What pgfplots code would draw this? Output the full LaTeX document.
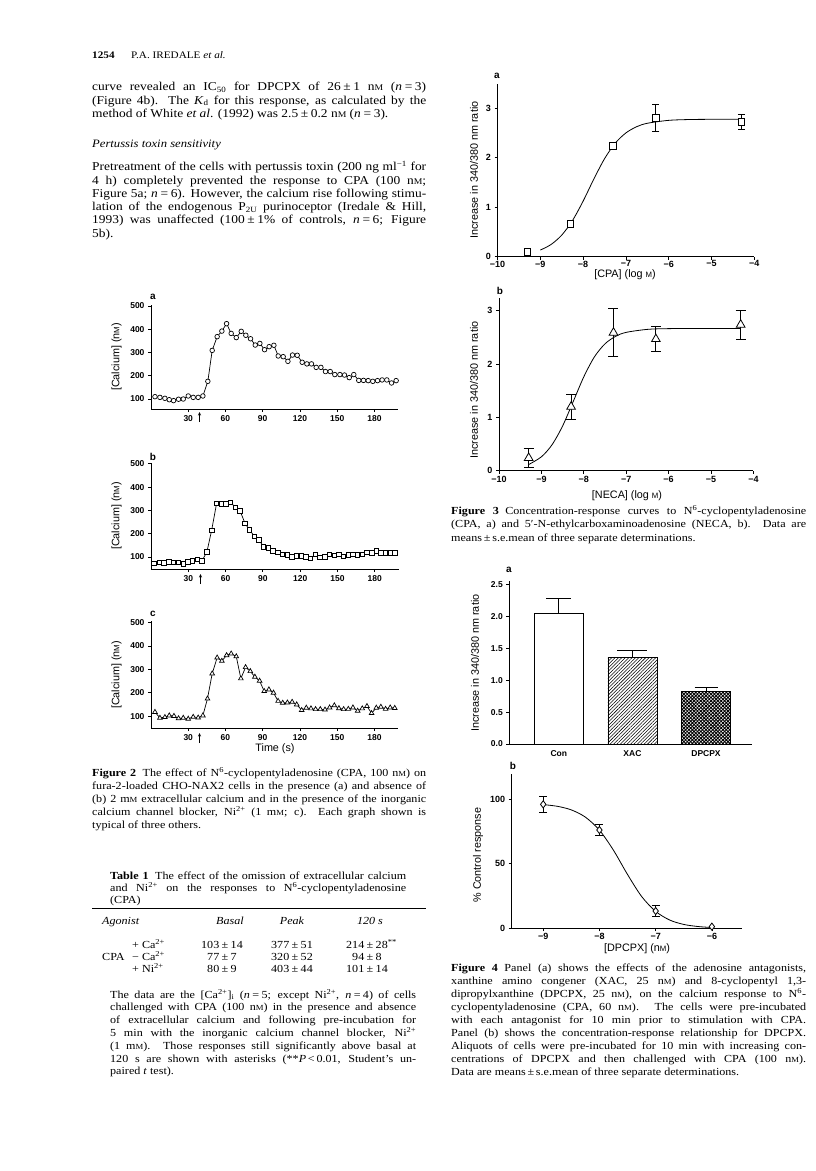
\documentclass[border=0pt]{standalone}
\usepackage{graphicx}
\usepackage{pgfplots}
\pgfplotsset{compat=1.18}
\usepackage{fontspec}
\setmainfont{Liberation Serif}[FakeStretch=1.12]
\setsansfont{Liberation Sans}
\usetikzlibrary{patterns.meta,arrows.meta}

% one picture unit = one pixel of the scanned page
\newcommand{\TJ}[4]{\node[anchor=base west,inner sep=0pt] at (#1pt,-#2pt) {\makebox[#3pt][s]{#4}};}
\newcommand{\TL}[3]{\node[anchor=base west,inner sep=0pt] at (#1pt,-#2pt) {#3};}
\newcommand{\TC}[3]{\node[anchor=base,inner sep=0pt] at (#1pt,-#2pt) {#3};}
\newcommand{\sm}{\scalebox{0.72}{M}}
\newcommand{\su}[1]{\textsuperscript{#1}}
\newcommand{\sub}[1]{\textsubscript{#1}}
\newcommand{\PM}{\hspace{0.22em}±\hspace{0.22em}}
\newcommand{\EQ}{\hspace{0.22em}=\hspace{0.22em}}
\newcommand{\bodyf}{\fontsize{12}{13}\selectfont}
\newcommand{\capf}{\fontsize{10.8}{12}\selectfont}
\newcommand{\labf}{\sffamily\fontsize{10.8}{12}\selectfont}
\newcommand{\letf}{\sffamily\bfseries\fontsize{10}{11}\selectfont}

\pgfplotsset{
  scan/.style={
    scale only axis, anchor=south west,
    axis lines*=left,
    axis line style={line width=0.9pt},
    tick style={black, line width=0.8pt},
    major tick length=3pt, tick align=outside,
    ticklabel style={font=\sffamily\bfseries\fontsize{8.5}{9}\selectfont},
    /pgf/number format/assume math mode=true,
    clip=false,
  },
  trace/.style={line width=0.7pt, mark options={fill=white, line width=0.7pt, solid}},
  ebars/.style={error bars/.cd, y dir=both, y explicit,
    error bar style={line width=0.8pt},
    error mark options={rotate=90, mark size=#1, line width=0.8pt}},
  upbar/.style={error bars/.cd, y dir=plus, y explicit,
    error bar style={line width=0.8pt},
    error mark options={rotate=90, mark size=#1, line width=0.8pt}},
}

\begin{document}
\begin{tikzpicture}[x=1pt,y=1pt]
\useasboundingbox (0,0) rectangle (816,-1171);

%---------------- left column text
\TL{92}{58}{\fontsize{10}{12}\selectfont\textbf{1254}}
\TL{131}{58}{\fontsize{10}{12}\selectfont P.A. IREDALE \textit{et al.}}

\TJ{92}{90.7}{334}{\bodyf curve revealed an IC\sub{50} for DPCPX of 26\PM1 n\sm{} (\textit{n}\EQ3)}
\TJ{92}{104}{334}{\bodyf (Figure 4b). The \textit{K}\sub{d} for this response, as calculated by the}
\TL{92}{117.3}{\bodyf method of White \textit{et al}. (1992) was 2.5\PM0.2 n\sm{} (\textit{n}\EQ3).}

\TL{92}{147}{\fontsize{11.3}{13}\selectfont\itshape Pertussis toxin sensitivity}

\TJ{92}{170.7}{334}{\bodyf Pretreatment of the cells with pertussis toxin (200 ng ml\su{−1} for}
\TJ{92}{184}{334}{\bodyf 4 h) completely prevented the response to CPA (100 n\sm;}
\TJ{92}{197.3}{334}{\bodyf Figure 5a; \textit{n}\EQ6). However, the calcium rise following stimu-}
\TJ{92}{210.6}{334}{\bodyf lation of the endogenous P\sub{2U} purinoceptor (Iredale \& Hill,}
\TJ{92}{223.9}{334}{\bodyf 1993) was unaffected (100\PM1\% of controls, \textit{n}\EQ6; Figure}
\TL{92}{237.2}{\bodyf 5b).}

%---------------- Figure 2 caption
\TJ{92}{776}{334}{\capf\textbf{Figure 2}\hspace{0.6em}The effect of N\su{6}-cyclopentyladenosine (CPA, 100 n\sm) on}
\TJ{92}{789.2}{334}{\capf fura-2-loaded CHO-NAX2 cells in the presence (a) and absence of}
\TJ{92}{802.4}{334}{\capf (b) 2 m\sm{} extracellular calcium and in the presence of the inorganic}
\TJ{92}{815.6}{334}{\capf calcium channel blocker, Ni\su{2+} (1 m\sm; c). Each graph shown is}
\TL{92}{828.8}{\capf typical of three others.}

%---------------- Table 1
\TJ{110}{879}{296}{\capf\textbf{Table 1}\hspace{0.6em}The effect of the omission of extracellular calcium}
\TJ{110}{891.3}{296}{\capf and Ni\su{2+} on the responses to N\su{6}-cyclopentyladenosine}
\TL{110}{903.3}{\capf (CPA)}
\draw[line width=1pt] (92,-908.5) -- (426,-908.5);
\TL{102}{924.7}{\capf\itshape Agonist}
\TC{230}{924.7}{\capf\itshape Basal}
\TC{292}{924.7}{\capf\itshape Peak}
\TC{370}{924.7}{\capf\itshape 120 s}
\TL{132}{948}{\capf + Ca\su{2+}}
\TL{102}{960.2}{\capf CPA}
\TL{132}{960.2}{\capf − Ca\su{2+}}
\TL{132}{972.4}{\capf + Ni\su{2+}}
\TC{222}{948}{\capf 103\PM14}
\TC{222}{960.2}{\capf 77\PM7}
\TC{222}{972.4}{\capf 80\PM9}
\TC{292}{948}{\capf 377\PM51}
\TC{292}{960.2}{\capf 320\PM52}
\TC{292}{972.4}{\capf 403\PM44}
\TC{367}{948}{\capf 214\PM28\rlap{\textsuperscript{**}}}
\TC{367}{960.2}{\capf 94\PM8}
\TC{367}{972.4}{\capf 101\PM14}

\TJ{110}{998}{306}{\capf The data are the [Ca\su{2+}]\sub{i} (\textit{n}\EQ5; except Ni\su{2+}, \textit{n}\EQ4) of cells}
\TJ{110}{1010.8}{306}{\capf challenged with CPA (100 n\sm) in the presence and absence}
\TJ{110}{1023.6}{306}{\capf of extracellular calcium and following pre-incubation for}
\TJ{110}{1036.4}{306}{\capf 5 min with the inorganic calcium channel blocker, Ni\su{2+}}
\TJ{110}{1049.2}{306}{\capf (1 m\sm). Those responses still significantly above basal at}
\TJ{110}{1062}{306}{\capf 120 s are shown with asterisks (**\textit{P}\,<\,0.01, Student’s un-}
\TL{110}{1074.8}{\capf paired \textit{t} test).}

%---------------- right column captions
\TJ{451}{514}{355}{\capf\textbf{Figure 3}\hspace{0.6em}Concentration-response curves to N\su{6}-cyclopentyladenosine}
\TJ{451}{527.5}{355}{\capf (CPA, a) and 5′-N-ethylcarboxaminoadenosine (NECA, b). Data are}
\TL{451}{541}{\capf means\,±\,s.e.mean of three separate determinations.}

\TJ{451}{971}{355}{\capf\textbf{Figure 4}\hspace{0.6em}Panel (a) shows the effects of the adenosine antagonists,}
\TJ{451}{984.1}{355}{\capf xanthine amino congener (XAC, 25 n\sm) and 8-cyclopentyl 1,3-}
\TJ{451}{997.2}{355}{\capf dipropylxanthine (DPCPX, 25 n\sm), on the calcium response to N\su{6}-}
\TJ{451}{1010.3}{355}{\capf cyclopentyladenosine (CPA, 60 n\sm). The cells were pre-incubated}
\TJ{451}{1023.4}{355}{\capf with each antagonist for 10 min prior to stimulation with CPA.}
\TJ{451}{1036.5}{355}{\capf Panel (b) shows the concentration-response relationship for DPCPX.}
\TJ{451}{1049.6}{355}{\capf Aliquots of cells were pre-incubated for 10 min with increasing con-}
\TJ{451}{1062.7}{355}{\capf centrations of DPCPX and then challenged with CPA (100 n\sm).}
\TL{451}{1075.8}{\capf Data are means\,±\,s.e.mean of three separate determinations.}

%================ Figure 2a
\begin{axis}[scan, at={(151pt,-409pt)}, width=247pt, height=104.2pt,
  xmin=0, xmax=199, ymin=57, ymax=505,
  xtick={30,60,...,180}, ytick={100,200,...,500}]
\addplot[trace, mark=*, mark size=2.3pt] coordinates {
(3.2,110)(7.2,107)(11.2,103)(14.7,97)(18.2,93)(22.2,99)(26,100)(30,113)(34,107)(38,107)
(41.8,113)(45.8,176)(49.3,309)(53.3,368)(57.1,392)(60.9,424)(64.6,382)(68.7,364)(72.7,391)(76.4,374)
(80.2,359)(84,332)(87.7,339)(91.5,312)(95.2,325)(99,331)(102.5,285)(106.5,282)(110.3,262)(114,289)
(117.8,288)(121.8,258)(125.6,251)(129.3,251)(133.1,236)(136.9,236)(140.6,218)(144.4,218)(148.1,205)(152.2,205)
(155.9,203)(159.7,192)(163.4,205)(167.4,180)(171.2,180)(175,179)(178.7,176)(182.5,179)(186.2,182)(190,182)
(193.8,169)(197.5,179)};
\end{axis}
\node[font=\letf] at (153,-297) {a};
\node[rotate=90,font=\labf] at (116.7,-357) {[Calcium] (n\sm)};
\draw[line width=0.7pt,-{Stealth[length=3.5pt,width=3pt]}] (199.5,-422) -- (199.5,-412);

%================ Figure 2b
\begin{axis}[scan, at={(151pt,-569pt)}, width=248pt, height=106.3pt,
  xmin=0, xmax=199.5, ymin=48, ymax=505,
  xtick={30,60,...,180}, ytick={100,200,...,500}]
\addplot[trace, mark=square*, mark size=2.2pt] coordinates {
(2.4,73)(6.6,77)(10.4,74)(14.4,78)(18.2,76)(21.9,76)(25.9,70)(29.7,78)(33.5,83)(37.2,90)
(41,83)(45,122)(48.8,215)(52.8,331)(56.5,328)(60.3,328)(64,335)(67.8,314)(71.6,298)(75.6,245)
(79.3,216)(83.1,189)(86.8,173)(90.6,144)(94.4,139)(98.1,126)(101.9,120)(105.6,110)(109.6,109)(113.4,101)
(117.1,104)(120.9,104)(124.6,101)(128.4,94)(132.2,110)(135.9,97)(139.9,101)(143.6,110)(147.4,107)(151.2,111)
(154.9,103)(158.7,109)(162.5,110)(166.2,109)(170,110)(173.7,120)(177.5,117)(181.2,126)(185,117)(188.7,117)
(192.5,117)(196.2,117)};
\end{axis}
\node[font=\letf] at (153,-457) {b};
\node[rotate=90,font=\labf] at (116.7,-516) {[Calcium] (n\sm)};
\draw[line width=0.7pt,-{Stealth[length=3.5pt,width=3pt]}] (200.5,-584) -- (200.5,-574);

%================ Figure 2c
\begin{axis}[scan, at={(151pt,-728pt)}, width=247pt, height=106.7pt,
  xmin=0, xmax=199, ymin=50, ymax=505,
  xtick={30,60,...,180}, ytick={100,200,...,500}]
\addplot[trace, mark=triangle*, mark size=2.7pt] coordinates {
(3.2,118)(7.2,93)(11.2,96)(14.7,103)(18.5,101)(22.2,91)(26,93)(30,89)(34,97)(38,94)
(41.8,103)(45.5,175)(49.3,282)(53.3,350)(57.1,336)(60.9,360)(64.6,367)(68.7,355)(72.4,261)(76.2,309)
(80,292)(83.7,268)(87.5,251)(91.2,207)(95,214)(98.7,200)(102.4,165)(106.1,157)(109.9,158)(113.7,161)
(117.4,150)(121.4,126)(125.1,136)(128.9,133)(132.6,130)(136.4,130)(140.2,128)(143.9,137)(147.7,146)(151.4,134)
(155.2,130)(159,131)(162.7,137)(166.5,123)(170.2,133)(174,143)(177.7,113)(181.5,136)(185.2,140)(189,131)
(192.7,137)(196.4,135)};
\end{axis}
\node[font=\letf] at (153,-614) {c};
\node[rotate=90,font=\labf] at (116.7,-675) {[Calcium] (n\sm)};
\node[font=\labf] at (275,-749) {Time (s)};
\draw[line width=0.7pt,-{Stealth[length=3.5pt,width=3pt]}] (199.5,-743) -- (199.5,-733);

%================ Figure 3a
\begin{axis}[scan, at={(497.5pt,-256.7pt)}, width=256.8pt, height=173.1pt,
  xmin=-10, xmax=-4, ymin=0, ymax=3.5,
  xtick={-10,...,-4}, xticklabels={−10,−9,−8,−7,−6,−5,−4}, ytick={0,1,2,3},
  ticklabel style={font=\sffamily\bfseries\fontsize{9}{10}\selectfont},
  x tick label style={yshift=2.5pt}]
\addplot[smooth, line width=0.8pt] coordinates {
(-9,0.134)(-8.75,0.246)(-8.5,0.436)(-8.25,0.728)(-8,1.123)(-7.75,1.569)(-7.5,1.98)
(-7.25,2.295)(-7,2.503)(-6.75,2.628)(-6.5,2.698)(-6,2.757)(-5.5,2.774)(-5,2.778)(-4.35,2.78)};
\addplot[only marks, mark=square*, mark size=3.3pt, mark options={fill=white,line width=0.8pt},
  ebars=3.5pt]
  coordinates {(-9.3,0.094)+-(0,0.07)(-8.3,0.66)+-(0,0.04)(-7.3,2.24)+-(0,0.04)
  (-6.3,2.81)+-(0,0.27)(-4.3,2.72)+-(0,0.15)};
\end{axis}
\node[font=\letf] at (497,-76) {a};
\node[rotate=90,font=\labf] at (474,-170) {Increase in 340/380 nm ratio};
\node[font=\labf] at (625,-275) {[CPA] (log \sm)};

%================ Figure 3b
\begin{axis}[scan, at={(499pt,-470.7pt)}, width=254.4pt, height=173.2pt,
  xmin=-10, xmax=-4, ymin=0, ymax=3.25,
  xtick={-10,...,-4}, xticklabels={−10,−9,−8,−7,−6,−5,−4}, ytick={0,1,2,3},
  ticklabel style={font=\sffamily\bfseries\fontsize{9}{10}\selectfont},
  x tick label style={yshift=1pt}]
\addplot[smooth, line width=0.8pt] coordinates {
(-9.3,0.116)(-9,0.261)(-8.75,0.486)(-8.5,0.839)(-8.25,1.297)(-8,1.762)(-7.75,2.136)
(-7.5,2.381)(-7.25,2.521)(-7,2.596)(-6.5,2.652)(-6,2.666)(-5,2.67)(-4.3,2.67)};
\addplot[only marks, mark=triangle*, mark size=5pt, mark options={fill=white,line width=0.8pt},
  ebars=5pt]
  coordinates {(-9.3,0.24)+-(0,0.18)(-8.3,1.2)+-(0,0.23)(-7.3,2.59)+-(0,0.45)
  (-6.3,2.47)+-(0,0.24)(-4.3,2.74)+-(0,0.27)};
\end{axis}
\node[font=\letf] at (500,-291) {b};
\node[rotate=90,font=\labf] at (474,-390) {Increase in 340/380 nm ratio};
\node[font=\labf] at (627,-496) {[NECA] (log \sm)};

%================ Figure 4a
\begin{axis}[scan, at={(509.3pt,-744pt)}, width=242.7pt, height=162.7pt,
  xmin=0.327, xmax=3.625, ymin=0, ymax=2.55,
  xtick={1,2,3}, xticklabels={Con,XAC,DPCPX}, x tick style={draw=none},
  ytick={0,0.5,...,2.5}, yticklabels={0.0,0.5,1.0,1.5,2.0,2.5}]
\addplot[ybar, bar shift=0pt, bar width=49pt, fill=white, draw=black, line width=0.8pt,
  upbar=12.5pt]
  coordinates {(1,2.05)+-(0,0.24)};
\addplot[ybar, bar shift=0pt, bar width=49pt, draw=black, line width=0.8pt,
  pattern={Lines[angle=45,distance=2.4pt,line width=0.55pt]},
  upbar=15pt]
  coordinates {(2,1.35)+-(0,0.11)};
\addplot[ybar, bar shift=0pt, bar width=49pt, draw=black, line width=0.8pt,
  pattern={Hatch[angle=45,distance=2.4pt,line width=0.9pt]},
  upbar=11.5pt]
  coordinates {(3,0.82)+-(0,0.06)};
\end{axis}
\node[font=\letf] at (509,-570) {a};
\node[rotate=90,font=\labf] at (475,-663) {Increase in 340/380 nm ratio};

%================ Figure 4b
\begin{axis}[scan, at={(511.7pt,-928.3pt)}, width=230pt, height=154.8pt,
  xmin=-9.56, xmax=-5.47, ymin=0, ymax=120,
  xtick={-9,-8,-7,-6}, xticklabels={−9,−8,−7,−6}, ytick={0,50,100},
  ticklabel style={font=\sffamily\bfseries\fontsize{9}{10}\selectfont},
  x tick label style={yshift=2pt}]
\addplot[smooth, line width=0.8pt] coordinates {
(-9,95.9)(-8.75,94.6)(-8.5,91.8)(-8.25,86.2)(-8,76.1)(-7.75,60.5)(-7.5,41.7)
(-7.25,24.7)(-7,13.1)(-6.75,6.4)(-6.5,3.0)(-6.25,1.4)(-6,0.6)};
\addplot[only marks, mark=diamond*, mark size=3.6pt, mark options={fill=white,line width=0.8pt},
  ebars=4pt]
  coordinates {(-9,96.1)+-(0,6)(-8,76.2)+-(0,4)(-7,13.4)+-(0,4.3)};
\addplot[only marks, mark=diamond*, mark size=3.6pt, mark options={fill=white,line width=0.8pt}]
  coordinates {(-6,1.3)};
\end{axis}
\node[font=\letf] at (513,-766) {b};
\node[rotate=90,font=\labf] at (478,-855) {\% Control response};
\node[font=\labf] at (637,-949) {[DPCPX] (n\sm)};

\end{tikzpicture}
\end{document}
